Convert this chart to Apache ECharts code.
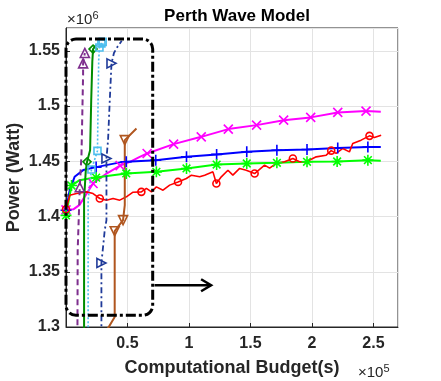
<!DOCTYPE html>
<html>
<head>
<meta charset="utf-8">
<script src="https://cdn.jsdelivr.net/npm/echarts@6/dist/echarts.min.js"></script>
<style>
  html, body { margin: 0; padding: 0; background: #fff; }
  #main { width: 441px; height: 381px; }
</style>
</head>
<body>
<div id="main"></div>
<script>
// x in units of 1e5 s, y in units of 1e6 W
const magentaX = [0.00, 0.06, 0.11, 0.22, 0.33, 0.44, 0.52, 0.60, 0.66, 0.875, 1.10, 1.32, 1.55, 1.77, 1.99, 2.21, 2.44, 2.56];
const magentaY = [1.4060, 1.4065, 1.4105, 1.4299, 1.4389, 1.4460, 1.4495, 1.4540, 1.4570, 1.4655, 1.4721, 1.4791, 1.4827, 1.4872, 1.4897, 1.4942, 1.4954, 1.4948];
const magentaMarks = [0, 3, 5, 8, 9, 10, 11, 12, 13, 14, 15, 16];

const blueX = [0.00, 0.03, 0.07, 0.14, 0.245, 0.44, 0.49, 0.73, 0.98, 1.225, 1.47, 1.715, 1.96, 2.21, 2.455, 2.56];
const blueY = [1.4057, 1.4238, 1.4359, 1.4420, 1.4447, 1.4490, 1.4495, 1.4510, 1.4540, 1.4562, 1.4585, 1.4600, 1.4607, 1.4620, 1.4628, 1.4628];
const blueMarks = [0, 4, 6, 7, 8, 9, 10, 11, 12, 13, 14];

const greenX = [0.00, 0.045, 0.11, 0.19, 0.245, 0.38, 0.49, 0.735, 0.98, 1.225, 1.47, 1.715, 1.96, 2.205, 2.455, 2.56];
const greenY = [1.4010, 1.4280, 1.4329, 1.4344, 1.4352, 1.4374, 1.4390, 1.4404, 1.4435, 1.4470, 1.4480, 1.4486, 1.4495, 1.4498, 1.4510, 1.4505];
const greenMarks = [0, 1, 4, 6, 7, 8, 9, 10, 11, 12, 13, 14];

const redX = [0.000, 0.031, 0.085, 0.167, 0.220, 0.275, 0.329, 0.383, 0.437, 0.491, 0.545, 0.613, 0.654, 0.695, 0.735, 0.789,
              0.843, 0.911, 0.979, 1.020, 1.087, 1.128, 1.195, 1.223, 1.263, 1.317, 1.357, 1.412, 1.466, 1.534, 1.615, 1.656,
              1.710, 1.777, 1.845, 1.899, 1.954, 2.035, 2.116, 2.157, 2.197, 2.251, 2.305, 2.332, 2.400, 2.468, 2.508, 2.563];
const redY = [1.4066, 1.4193, 1.4208, 1.4223, 1.4208, 1.4163, 1.4148, 1.4163, 1.4148, 1.4178, 1.4220, 1.4223, 1.4254, 1.4223, 1.4268, 1.4238,
              1.4284, 1.4313, 1.4344, 1.4374, 1.4359, 1.4374, 1.4404, 1.4299, 1.4359, 1.4419, 1.4374, 1.4435, 1.4419, 1.4389, 1.4465, 1.4438,
              1.4480, 1.4495, 1.4525, 1.4495, 1.4495, 1.4540, 1.4555, 1.4596, 1.4571, 1.4616, 1.4585, 1.4661, 1.4691, 1.4730, 1.4714, 1.4736];
const redMarks = [0, 5, 11, 17, 23, 29, 34, 39, 45];

const purpleX = [0.093, 0.095, 0.112, 0.126, 0.139, 0.139, 0.153];
const purpleY = [1.2925, 1.3695, 1.4265, 1.4560, 1.5280, 1.5386, 1.5480];
const purpleMarks = [2, 5, 6];

const darkGreenX = [0.147, 0.147, 0.161, 0.171, 0.196, 0.205, 0.214, 0.220, 0.245];
const darkGreenY = [1.2925, 1.4148, 1.4420, 1.4495, 1.4600, 1.5050, 1.5400, 1.5515, 1.5552];
const darkGreenMarks = [3, 7];

const lightBlueX = [0.18, 0.18, 0.207, 0.256, 0.261, 0.266, 0.272, 0.288, 0.298];
const lightBlueY = [1.2925, 1.4148, 1.4426, 1.4594, 1.5053, 1.5415, 1.5530, 1.5567, 1.5580];
const lightBlueMarks = [2, 3, 6, 7, 8];

const navyX = [0.288, 0.288, 0.307, 0.315, 0.329, 0.329, 0.342, 0.356, 0.370, 0.39, 0.415, 0.453];
const navyY = [1.2925, 1.358, 1.3785, 1.3876, 1.3967, 1.4525, 1.4691, 1.5053, 1.5386, 1.5480, 1.5530, 1.5590];
const navyMarks = [1, 5, 8];

const brownX = [0.307, 0.396, 0.396, 0.464, 0.478, 0.478, 0.573];
const brownY = [1.2925, 1.3090, 1.3867, 1.3967, 1.4102, 1.4691, 1.4797];
const brownMarks = [2, 3, 5];

// zoom box and arrow (data coordinates)
const boxX = [0, 0.705];
const boxY = [1.3106, 1.5606];
const arrowX = [0.72, 1.18];
const arrowY = 1.3378;

const FONT = 'Liberation Sans';

const SYM = {
  cross: 'path://M0,0L10,10M10,0L0,10',
  plus: 'path://M5,0L5,10M0,5L10,5',
  star: 'path://M5,0L5,10M0,5L10,5M1.5,1.5L8.5,8.5M8.5,1.5L1.5,8.5',
  down: 'path://M0,0L10,0L5,9Z',
  right: 'path://M0,0L9,5L0,10Z',
  up: 'path://M5,0L10,9L0,9Z'
};

function makeSeries(xs, ys, marks, color, symbol, size, type, width) {
  const data = xs.map((x, i) => marks.includes(i)
    ? { value: [x, ys[i]] }
    : { value: [x, ys[i]], symbol: 'none' });
  return {
    type: 'line',
    data: data,
    symbol: symbol,
    symbolSize: size,
    showSymbol: true,
    showAllSymbol: true,
    lineStyle: { color: color, width: width, type: type },
    itemStyle: { color: 'rgba(0,0,0,0)', borderColor: color, borderWidth: 1.6 },
    emphasis: { disabled: true },
    clip: true
  };
}

const chart = echarts.init(document.getElementById('main'), null, { renderer: 'canvas' });

chart.setOption({
  animation: false,
  title: {
    text: 'Perth Wave Model',
    left: 232, top: 3, textAlign: 'center',
    textStyle: { fontFamily: FONT, fontSize: 17, fontWeight: 'bold', color: '#000' }
  },
  grid: {
    left: 66, right: 43, top: 28, bottom: 54,
    outerBoundsMode: 'none', containLabel: false,
    show: true, borderColor: '#262626', borderWidth: 1
  },
  xAxis: {
    type: 'value', min: 0, max: 2.7, interval: 0.5,
    name: 'Computational Budget(s)', nameLocation: 'middle', nameGap: 32, nameMoveOverlap: false,
    nameTextStyle: { fontFamily: FONT, fontSize: 18, fontWeight: 'bold', color: '#262626' },
    axisLine: { lineStyle: { color: '#262626' } },
    axisTick: { inside: true, length: 4, lineStyle: { color: '#262626' } },
    axisLabel: { showMinLabel: false, showMaxLabel: false, margin: 9,
      fontFamily: FONT, fontSize: 16, fontWeight: 'bold', color: '#262626' },
    splitLine: { show: true, lineStyle: { color: '#e3e3e3' } }
  },
  yAxis: {
    type: 'value', min: 1.3, max: 1.5706, interval: 0.05,
    name: 'Power (Watt)', nameLocation: 'middle', nameGap: 43, nameMoveOverlap: false,
    nameTextStyle: { fontFamily: FONT, fontSize: 18, fontWeight: 'bold', color: '#262626' },
    axisLine: { lineStyle: { color: '#262626' } },
    axisTick: { inside: true, length: 4, lineStyle: { color: '#262626' } },
    axisLabel: { showMaxLabel: false, margin: 6,
      formatter: v => String(Math.round(v * 100) / 100),
      fontFamily: FONT, fontSize: 16, fontWeight: 'bold', color: '#262626' },
    splitLine: { show: true, lineStyle: { color: '#e3e3e3' } }
  },
  series: [
    makeSeries(magentaX, magentaY, magentaMarks, '#ff00ff', SYM.cross, 9, 'solid', 2),
    makeSeries(blueX, blueY, blueMarks, '#0000ff', SYM.plus, 11, 'solid', 2),
    makeSeries(greenX, greenY, greenMarks, '#00ff00', SYM.star, 11, 'solid', 2),
    makeSeries(redX, redY, redMarks, '#ff0000', 'circle', 7, 'solid', 1.6),
    makeSeries(purpleX, purpleY, purpleMarks, '#7e2f8e', SYM.up, 9, [6, 4], 2),
    makeSeries(darkGreenX, darkGreenY, darkGreenMarks, '#008c00', 'diamond', 8, 'solid', 2),
    makeSeries(lightBlueX, lightBlueY, lightBlueMarks, '#4dbeee', 'rect', 7, [2, 2], 1.6),
    makeSeries(navyX, navyY, navyMarks, '#1f3a99', SYM.right, 9, [6, 3, 2, 3], 1.8),
    makeSeries(brownX, brownY, brownMarks, '#b0561f', SYM.down, 9, 'solid', 2)
  ]
});

const a = chart.convertToPixel({ gridIndex: 0 }, [boxX[0], boxY[1]]);
const b = chart.convertToPixel({ gridIndex: 0 }, [boxX[1], boxY[0]]);
const s = chart.convertToPixel({ gridIndex: 0 }, [arrowX[0], arrowY]);
const e = chart.convertToPixel({ gridIndex: 0 }, [arrowX[1], arrowY]);

chart.setOption({
  graphic: [
    {
      type: 'rect', z: 100,
      shape: { x: a[0], y: a[1], width: b[0] - a[0], height: b[1] - a[1], r: 10 },
      style: { fill: 'none', stroke: '#000', lineWidth: 3, lineDash: [10, 3, 3, 3] }
    },
    {
      type: 'polyline', z: 100,
      shape: { points: [[s[0], s[1]], [e[0], e[1]]] },
      style: { stroke: '#000', lineWidth: 2.5 }
    },
    {
      type: 'polyline', z: 100,
      shape: { points: [[e[0] - 10, e[1] - 6], [e[0], e[1]], [e[0] - 10, e[1] + 6]] },
      style: { stroke: '#000', lineWidth: 2.5, fill: 'none' }
    },
    {
      type: 'text', left: 67, top: 10, z: 100,
      style: {
        text: '×10{s|6}', fontFamily: FONT, fontSize: 15, fill: '#262626',
        rich: { s: { fontFamily: FONT, fontSize: 11, verticalAlign: 'top', padding: [0, 0, 8, 0] } }
      }
    },
    {
      type: 'text', left: 358, top: 363, z: 100,
      style: {
        text: '×10{s|5}', fontFamily: FONT, fontSize: 15, fill: '#262626',
        rich: { s: { fontFamily: FONT, fontSize: 11, verticalAlign: 'top', padding: [0, 0, 8, 0] } }
      }
    }
  ]
});
</script>
</body>
</html>
